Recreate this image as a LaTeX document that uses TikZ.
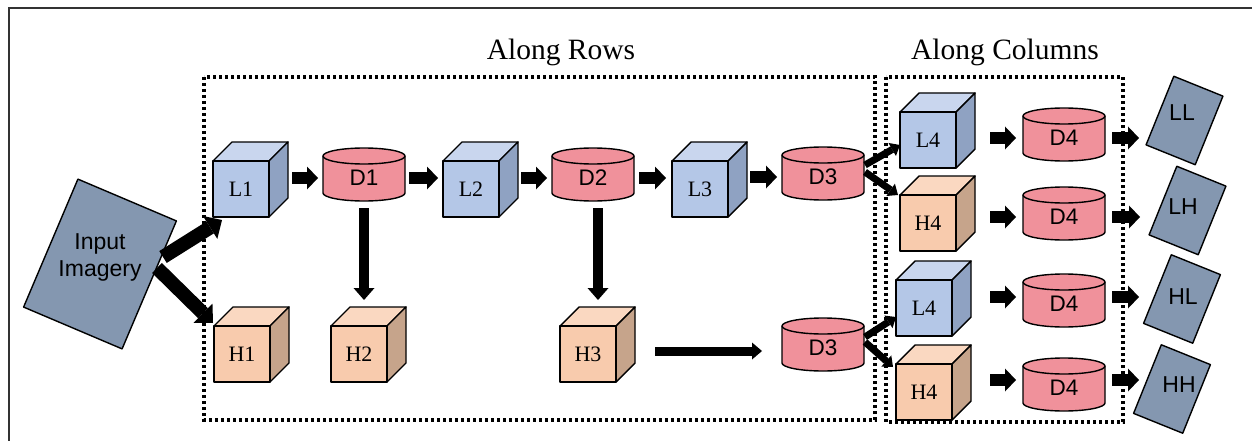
\documentclass[tikz,border=0pt]{standalone}
\usepackage{fontspec}
\setmainfont{Liberation Serif}
\newfontfamily\arialf{Liberation Sans}
\usetikzlibrary{arrows.meta,calc}
\definecolor{Lfront}{RGB}{180,199,231}
\definecolor{Ltop}{RGB}{201,214,238}
\definecolor{Lside}{RGB}{143,162,194}
\definecolor{Hfront}{RGB}{248,203,173}
\definecolor{Htop}{RGB}{250,216,193}
\definecolor{Hside}{RGB}{198,164,139}
\definecolor{cylc}{RGB}{240,145,155}
\definecolor{slate}{RGB}{132,151,176}
\tikzset{
 edge/.style={draw=black, line width=1.4pt, line join=round},
 cubef/.style={edge, minimum width=56pt, minimum height=56pt, inner sep=0pt, outer sep=0pt, font=\fontsize{22}{24}\selectfont},
 cyltxt/.style={minimum width=82pt, minimum height=44pt, inner sep=0pt, outer sep=0pt, font=\arialf\fontsize{22.5}{24}\selectfont},
 slatebox/.style={edge, fill=slate, inner sep=0pt, outer sep=0pt},
 outbox/.style={slatebox, minimum width=53pt, minimum height=74pt, rotate=-22},
 outtxt/.style={font=\arialf\fontsize{23}{25}\selectfont, inner sep=0pt},
 title/.style={font=\fontsize{29.5}{32}\selectfont, inner sep=0pt},
 dotbox/.style={line width=3.2pt, dash pattern=on 3pt off 3pt},
 bigarr/.style={line width=14pt, -{Triangle[width=27pt,length=14pt,line width=0pt]}},
 blk/.style={line width=12pt, -{Triangle[width=23pt,length=11pt,line width=0pt]}},
 varr/.style={line width=10pt, -{Triangle[width=21pt,length=12pt,line width=0pt]}},
 midarr/.style={line width=9pt, -{Triangle[width=17pt,length=10pt,line width=0pt]}},
 thinarr/.style={line width=7pt, -{Triangle[width=15pt,length=9pt,line width=0pt]}},
}
\newcommand\mkcube[5]{%
 \begin{scope}[shift={(#2,-#3)}]
 \filldraw[edge, fill=#5top] (-28,28) -- (-9,47) -- (47,47) -- (28,28) -- cycle;
 \filldraw[edge, fill=#5side] (28,28) -- (47,47) -- (47,-9) -- (28,-28) -- cycle;
 \node[cubef, fill=#5front] (#1) at (0,0) {#4};
 \end{scope}}
\newcommand\mkcyl[4]{%
 \begin{scope}[shift={(#2,-#3)}]
 \filldraw[edge, fill=cylc] (-41,-8) -- (-41,-45) arc[start angle=180,end angle=360,x radius=41,y radius=8] -- (41,-8) arc[start angle=0,end angle=180,x radius=41,y radius=8] -- cycle;
 \draw[edge] (-41,-8) arc[start angle=180,end angle=360,x radius=41,y radius=8];
 \node[cyltxt] (#1) at (0,-30) {#4};
 \end{scope}}
\begin{document}
\begin{tikzpicture}[x=1pt,y=1pt]
\useasboundingbox (0,0) rectangle (1252,-441);
\fill[white] (0,0) rectangle (1252,-441);
% outer frame
\draw[line width=2pt, black!80] (9,-445) -- (9,-8) -- (1256,-8);
% titles
\node[title] (tr) at (561,-52) {Along Rows};
\node[title] (tc) at (1005,-52) {Along Columns};
% dotted boxes
\draw[dotbox] (204,-77) rectangle (875,-420);
\draw[dotbox] (886,-77) rectangle (1123,-422);
% input
\node[slatebox, minimum width=107pt, minimum height=139pt, rotate=-23] (inp) at (100,-264) {};
\node[font=\arialf\fontsize{23}{27}\selectfont, align=center, inner sep=0pt] (inptxt) at (100,-257) {Input\\Imagery};
% cubes
\mkcube{L1}{241}{189}{L1}{L}
\mkcube{L2}{471}{189}{L2}{L}
\mkcube{L3}{700}{189}{L3}{L}
\mkcube{H1}{242}{354}{H1}{H}
\mkcube{H2}{359}{354}{H2}{H}
\mkcube{H3}{588}{354}{H3}{H}
\mkcube{L4a}{928}{140}{L4}{L}
\mkcube{H4a}{928}{223}{H4}{H}
\mkcube{L4b}{924}{308}{L4}{L}
\mkcube{H4b}{924}{392}{H4}{H}
% cylinders
\mkcyl{D1}{364}{148}{D1}
\mkcyl{D2}{593}{148}{D2}
\mkcyl{D3}{823}{147}{D3}
\mkcyl{D3b}{823}{318}{D3}
\mkcyl{D4a}{1064}{108}{D4}
\mkcyl{D4b}{1064}{187}{D4}
\mkcyl{D4c}{1064}{274}{D4}
\mkcyl{D4d}{1064}{358}{D4}
% outputs
\node[outbox] (LL) at (1184.5,-120.5) {};
\node[outtxt] (LLt) at (1182,-113) {LL};
\node[outbox] (LH) at (1187.5,-210.5) {};
\node[outtxt] (LHt) at (1183,-207) {LH};
\node[outbox] (HL) at (1182,-299) {};
\node[outtxt] (HLt) at (1183,-297) {HL};
\node[outbox] (HH) at (1172,-389) {};
\node[outtxt] (HHt) at (1179,-385) {HH};
% arrows from input
\draw[bigarr] ($(inp.center)+(63,7)$) -- ($(L1.south west)+(9,-3)$);
\draw[bigarr] ($(inp.center)+(57,-4)$) -- ($(H1.north west)+(-1,3)$);
% row arrows
\draw[blk] ($(L1.east |- D1.west)+(23,0)$) -- ($(D1.west)+(-5,0)$);
\draw[blk] ($(D1.east)+(4,0)$) -- ($(L2.west |- D1.east)+(-5,0)$);
\draw[blk] ($(L2.east |- D2.west)+(22,0)$) -- ($(D2.west)+(-5,0)$);
\draw[blk] ($(D2.east)+(5,0)$) -- ($(L3.west |- D2.east)+(-6,0)$);
\draw[blk] ($(L3.east |- D3.west)+(22,0)$) -- ($(D3.west)+(-5,0)$);
% vertical arrows
\draw[varr] ($(D1.south)+(0,-8)$) -- ($(D1.south |- H2.north)+(0,26)$);
\draw[varr] ($(D2.south)+(5,-8)$) -- ($(D2.south |- H3.north)+(5,26)$);
\draw[midarr] ($(H3.east)+(39,3)$) -- ($(H3.east -| D3b.west)+(-20,3)$);
% split arrows
\draw[thinarr] ($(D3.east)+(1,12)$) -- ($(L4a.west)+(0,-5)$);
\draw[thinarr] ($(D3.east)+(1,5)$) -- ($(H4a.north west)+(-2,0)$);
\draw[thinarr] ($(D3b.east)+(1,11)$) -- ($(L4b.west)+(0,-9)$);
\draw[thinarr] ($(D3b.east)+(1,6)$) -- ($(H4b.north west)+(-3,-3)$);
% column arrows
\draw[blk] ($(L4a.east |- D4a.west)+(34,0)$) -- ($(D4a.west)+(-7,0)$);
\draw[blk] ($(H4a.east |- D4b.west)+(34,0)$) -- ($(D4b.west)+(-7,0)$);
\draw[blk] ($(L4b.east |- D4c.west)+(38,7)$) -- ($(D4c.west)+(-7,7)$);
\draw[blk] ($(H4b.east |- D4d.west)+(38,8)$) -- ($(D4d.west)+(-7,8)$);
\draw[blk] ($(D4a.east)+(7,0)$) -- ($(D4a.east)+(34,0)$);
\draw[blk] ($(D4b.east)+(7,0)$) -- ($(D4b.east)+(35,0)$);
\draw[blk] ($(D4c.east)+(7,7)$) -- ($(D4c.east)+(34,7)$);
\draw[blk] ($(D4d.east)+(7,8)$) -- ($(D4d.east)+(34,8)$);
\end{tikzpicture}
\end{document}
